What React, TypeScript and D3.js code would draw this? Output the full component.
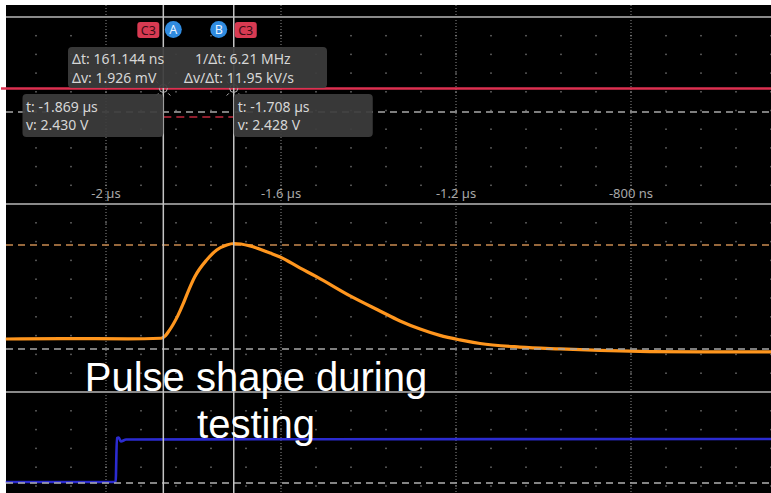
import React from "react";
import * as d3 from "d3";

// ---- data ----
const timeTicks = [-2000, -1600, -1200, -800]; // ns
const tickLabels = ["-2 µs", "-1.6 µs", "-1.2 µs", "-800 ns"];

// channel 3 (red, top panel), in divisions
const redTime = [-2240, -480];
const redValue = [1.18, 1.18];

// orange pulse (middle panel), divisions
const orangeTime = [-2229, -2100, -1950, -1874, -1864, -1856, -1846, -1836, -1824, -1814, -1797, -1770, -1747, -1724, -1707, -1671, -1625, -1602, -1557, -1518, -1442, -1374, -1328, -1282, -1237, -1191, -1145, -1054, -962, -871, -757, -642, -480];
const orangeValue = [-2.18, -2.16, -2.17, -2.14, -2.0, -1.75, -1.38, -0.95, -0.33, 0.25, 1.13, 2.02, 2.55, 2.82, 2.9, 2.77, 2.39, 2.18, 1.6, 1.12, 0.11, -0.69, -1.22, -1.65, -1.99, -2.23, -2.42, -2.61, -2.71, -2.79, -2.85, -2.87, -2.87];

// blue trigger step (bottom panel), divisions
const blueTime = [-2229, -1978, -1975, -1971, -1966, -1954, -1500, -480];
const blueValue = [0.21, 0.21, 2.55, 2.58, 2.37, 2.47, 2.49, 2.5];

const cursorTimes = [-1869, -1708];
const deltaLines = [
  ["Δt: 161.144 ns", "1/Δt: 6.21 MHz"],
  ["Δv: 1.926 mV", "Δv/Δt: 11.95 kV/s"],
];
const readoutA = ["t: -1.869 µs", "v: 2.430 V"];
const readoutB = ["t: -1.708 µs", "v: 2.428 V"];
const overlayText = ["Pulse shape during", "testing"];

// reference (dashed) levels, in divisions of each panel
const topRefLevel = -0.08;
const redCursorLevel = -0.35;
const orangeRefHigh = 2.82;
const midRefLow = -2.71;
const bottomRefLevel = 0.16;

export default function App() {
  const W = 771, H = 493;
  const x = d3.scaleLinear().domain([-2000, -800]).range([106, 631]);
  const edges = [17, 204, 392, 580];
  const panels = [0, 1, 2].map((i) =>
    d3.scaleLinear().domain([-5, 5]).range([edges[i + 1], edges[i]])
  );
  const [yTop, yMid, yBot] = panels;

  const colTimes = d3.range(-2240, -479, 80);
  const dots: { cx: number; cy: number }[] = [];
  panels.forEach((p) => {
    d3.range(-4, 5).forEach((v) => {
      colTimes.forEach((t) => {
        const cx = x(t), cy = p(v);
        if (cx > 6 && cy < H) dots.push({ cx, cy });
      });
    });
  });

  const pathOf = (ts: number[], vs: number[], ys: d3.ScaleLinear<number, number>) =>
    d3
      .line<[number, number]>()
      .x((d) => x(d[0]))
      .y((d) => ys(d[1]))
      .curve(d3.curveMonotoneX)(ts.map((t, i) => [t, vs[i]] as [number, number])) || "";

  const xA = x(cursorTimes[0]);
  const xB = x(cursorTimes[1]);
  const yRed = yTop(redValue[0]);
  const font = "'Noto Sans', 'DejaVu Sans', sans-serif";
  const boxText = "#d6d6d6";

  const crosshair = (cx: number, cy: number, key: string) => (
    <g key={key} stroke="#b8b8b8" strokeWidth={1} fill="none">
      <circle cx={cx} cy={cy} r={4} />
      {[45, 135, 225, 315].map((a) => {
        const r = (a * Math.PI) / 180;
        return (
          <line
            key={a}
            x1={cx + Math.cos(r) * 7}
            y1={cy + Math.sin(r) * 7}
            x2={cx + Math.cos(r) * 10}
            y2={cy + Math.sin(r) * 10}
          />
        );
      })}
    </g>
  );

  return (
    <svg
      width={W}
      height={H}
      style={{ position: "absolute", left: 0, top: 0, display: "block" }}
    >
      <rect x={0} y={0} width={W} height={H} fill="#ffffff" />
      <rect x={6} y={5} width={W - 6} height={H - 5} fill="#000000" />

      {/* grid dots */}
      {dots.map((d, i) => (
        <rect key={i} x={d.cx - 0.75} y={d.cy - 0.75} width={1.5} height={1.5} fill="#6e6e6e" />
      ))}
      {/* major dotted verticals */}
      {timeTicks.map((t) => (
        <line
          key={t}
          x1={x(t)}
          x2={x(t)}
          y1={5}
          y2={H}
          stroke="#8c8c8c"
          strokeWidth={1}
          strokeDasharray="1 2"
        />
      ))}
      {/* panel separators */}
      {edges.slice(0, 3).map((e) => (
        <line key={e} x1={6} x2={W} y1={e} y2={e} stroke="#8a8a8a" strokeWidth={2} />
      ))}

      {/* tick labels */}
      {timeTicks.map((t, i) => (
        <text
          key={t}
          x={x(t)}
          y={198}
          textAnchor="middle"
          fontFamily={font}
          fontSize={13}
          fill="#a8a8a8"
        >
          {tickLabels[i]}
        </text>
      ))}

      {/* dashed reference levels */}
      <line x1={6} x2={W} y1={yTop(topRefLevel)} y2={yTop(topRefLevel)} stroke="#a8a8a8" strokeWidth={1.5} strokeDasharray="7 5" />
      <line x1={6} x2={W} y1={yMid(orangeRefHigh)} y2={yMid(orangeRefHigh)} stroke="#c98a50" strokeWidth={1.5} strokeDasharray="7 5" />
      <line x1={xA} x2={xB} y1={yTop(redCursorLevel)} y2={yTop(redCursorLevel)} stroke="#c0283c" strokeWidth={1.5} strokeDasharray="8 5" />

      {/* traces */}
      <path d={pathOf(redTime, redValue, yTop)} fill="none" stroke="#dd3050" strokeWidth={2.6} />
      <path d={pathOf(orangeTime, orangeValue, yMid)} fill="none" stroke="#ff961e" strokeWidth={3.2} />
      <path d={pathOf(blueTime, blueValue, yBot)} fill="none" stroke="#2b2bd0" strokeWidth={2.6} />

      <line x1={6} x2={W} y1={yMid(midRefLow)} y2={yMid(midRefLow)} stroke="#a8a8a8" strokeWidth={1.5} strokeDasharray="7 5" />
      <line x1={6} x2={W} y1={yBot(bottomRefLevel)} y2={yBot(bottomRefLevel)} stroke="#b0b0b0" strokeWidth={1.5} strokeDasharray="7 5" />

      {/* cursors */}
      {[xA, xB].map((cx, i) => (
        <line key={i} x1={cx} x2={cx} y1={5} y2={H} stroke="#c4c4c4" strokeWidth={1.5} />
      ))}
      {crosshair(xA, yRed, "ca")}
      {crosshair(xB, yRed, "cb")}

      {/* badges */}
      <g fontFamily={font} fontSize={12.5} textAnchor="middle">
        <rect x={xA - 26} y={22} width={22} height={16} rx={3} fill="#d83a52" />
        <text x={xA - 15} y={34.5} fill="#3a0c14">C3</text>
        <circle cx={xA + 10} cy={29.5} r={8.5} fill="#2f8be0" />
        <text x={xA + 10} y={34} fill="#e8f2ff">A</text>
        <circle cx={xB - 15} cy={29.5} r={8.5} fill="#2f8be0" />
        <text x={xB - 15} y={34} fill="#e8f2ff">B</text>
        <rect x={xB + 1} y={22} width={22} height={16} rx={3} fill="#d83a52" />
        <text x={xB + 12} y={34.5} fill="#3a0c14">C3</text>
      </g>

      {/* readout boxes */}
      <g fontFamily={font} fontSize={14} fill={boxText}>
        <rect x={68} y={47} width={259} height={41} rx={4} fill="#3c3c3c" fillOpacity={0.93} />
        <text x={72} y={64}>{deltaLines[0][0]}</text>
        <text x={195} y={64}>{deltaLines[0][1]}</text>
        <text x={72} y={83}>{deltaLines[1][0]}</text>
        <text x={184} y={83}>{deltaLines[1][1]}</text>

        <rect x={22.5} y={94} width={xA - 22.5} height={43} rx={4} fill="#3c3c3c" fillOpacity={0.93} />
        <text x={26} y={111.5}>{readoutA[0]}</text>
        <text x={26} y={130}>{readoutA[1]}</text>

        <rect x={xB} y={94} width={139} height={43} rx={4} fill="#3c3c3c" fillOpacity={0.93} />
        <text x={xB + 4} y={111.5}>{readoutB[0]}</text>
        <text x={xB + 4} y={130}>{readoutB[1]}</text>
      </g>

      {/* overlay annotation */}
      <g fontFamily="'Liberation Sans', Arial, sans-serif" fontSize={40} fill="#ffffff" textAnchor="middle">
        <text x={256} y={391}>{overlayText[0]}</text>
        <text x={256} y={438}>{overlayText[1]}</text>
      </g>
    </svg>
  );
}
